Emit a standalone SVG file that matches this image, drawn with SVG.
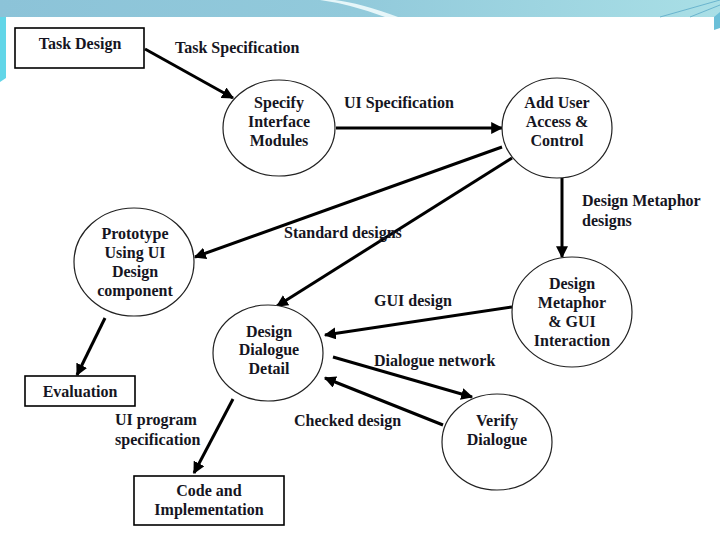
<svg xmlns="http://www.w3.org/2000/svg" width="720" height="540" viewBox="0 0 720 540">
<defs>
<linearGradient id="band" x1="0" y1="0" x2="1" y2="0">
<stop offset="0" stop-color="#8cc3d8"/>
<stop offset="0.5" stop-color="#92cadb"/>
<stop offset="1" stop-color="#a9dfe6"/>
</linearGradient>
<marker id="ah" viewBox="0 0 10 10" refX="9" refY="5" markerWidth="4" markerHeight="4" orient="auto" markerUnits="strokeWidth">
<path d="M0,0 L10,5 L0,10 z" fill="#000"/>
</marker>
<style>
text{font-family:"Liberation Serif","Times New Roman",serif;font-weight:bold;font-size:16px;fill:#151522}
.c{text-anchor:middle}
.node ellipse{fill:#fff;stroke:#222;stroke-width:1.2}
.node rect{fill:#fff;stroke:#000;stroke-width:1.6}
#connectors line{stroke:#000;stroke-width:3;marker-end:url(#ah)}
</style>
</defs>
<rect x="0" y="0" width="720" height="540" fill="#fff"/>
<rect x="0" y="0" width="720" height="17" fill="url(#band)"/>
<path d="M0,17 L6,17 L6,78 L0,82 z" fill="#62d6e8"/>
<path d="M714,17 L720,12 L720,28 L714,30 z" fill="#6bbfd8"/>
<path d="M660,17 L720,0" stroke="#5aa9c8" stroke-width="0.8" fill="none"/>
<path d="M690,17 L720,5" stroke="#5aa9c8" stroke-width="0.8" fill="none"/>
<path d="M320,0 Q350,4 385,17 L398,17 Q360,3 335,0 z" fill="#e6f6f9"/>

<g id="connectors">
<line x1="145" y1="49" x2="233" y2="98"/>
<line x1="336" y1="128" x2="502" y2="128"/>
<line x1="502" y1="147" x2="195" y2="257"/>
<line x1="512" y1="158" x2="277" y2="306"/>
<line x1="562" y1="178" x2="562" y2="257"/>
<line x1="512" y1="307" x2="325" y2="335"/>
<line x1="333" y1="357" x2="472" y2="397"/>
<line x1="443" y1="425" x2="325" y2="378"/>
<line x1="105" y1="318" x2="77" y2="375"/>
<line x1="233" y1="399" x2="194" y2="473"/>
<text x="175" y="53">Task Specification</text>
<text x="344" y="108">UI Specification</text>
<text x="284" y="238">Standard designs</text>
<text x="582" y="206">Design Metaphor</text>
<text x="582" y="226">designs</text>
<text x="374" y="306">GUI design</text>
<text x="374" y="366">Dialogue network</text>
<text x="294" y="426">Checked design</text>
<text x="115" y="425">UI program</text>
<text x="115" y="445">specification</text>
</g>

<g id="task-design" class="node">
<rect x="15" y="28" width="129" height="40"/>
<text class="c" x="80" y="49">Task Design</text>
</g>
<g id="specify-interface" class="node">
<ellipse cx="279" cy="128" rx="56" ry="48"/>
<text class="c" x="279" y="108">Specify</text>
<text class="c" x="279" y="127">Interface</text>
<text class="c" x="279" y="146">Modules</text>
</g>
<g id="add-user-access" class="node">
<ellipse cx="557" cy="128" rx="55" ry="50"/>
<text class="c" x="557" y="108">Add User</text>
<text class="c" x="557" y="127">Access &amp;</text>
<text class="c" x="557" y="146">Control</text>
</g>
<g id="prototype" class="node">
<ellipse cx="134" cy="262" rx="60" ry="54"/>
<text class="c" x="135" y="239">Prototype</text>
<text class="c" x="135" y="258">Using UI</text>
<text class="c" x="135" y="277">Design</text>
<text class="c" x="135" y="296">component</text>
</g>
<g id="design-dialogue" class="node">
<ellipse cx="268" cy="353" rx="55" ry="48"/>
<text class="c" x="269" y="337">Design</text>
<text class="c" x="269" y="355">Dialogue</text>
<text class="c" x="269" y="374">Detail</text>
</g>
<g id="design-metaphor" class="node">
<ellipse cx="572" cy="312" rx="60" ry="55"/>
<text class="c" x="572" y="289">Design</text>
<text class="c" x="572" y="308">Metaphor</text>
<text class="c" x="572" y="327">&amp; GUI</text>
<text class="c" x="572" y="346">Interaction</text>
</g>
<g id="verify-dialogue" class="node">
<ellipse cx="497" cy="442" rx="55" ry="48"/>
<text class="c" x="497" y="426">Verify</text>
<text class="c" x="497" y="445">Dialogue</text>
</g>
<g id="evaluation" class="node">
<rect x="25" y="376" width="110" height="30"/>
<text class="c" x="80" y="397">Evaluation</text>
</g>
<g id="code-implementation" class="node">
<rect x="134" y="476" width="150" height="49"/>
<text class="c" x="209" y="496">Code and</text>
<text class="c" x="209" y="515">Implementation</text>
</g>
</svg>
